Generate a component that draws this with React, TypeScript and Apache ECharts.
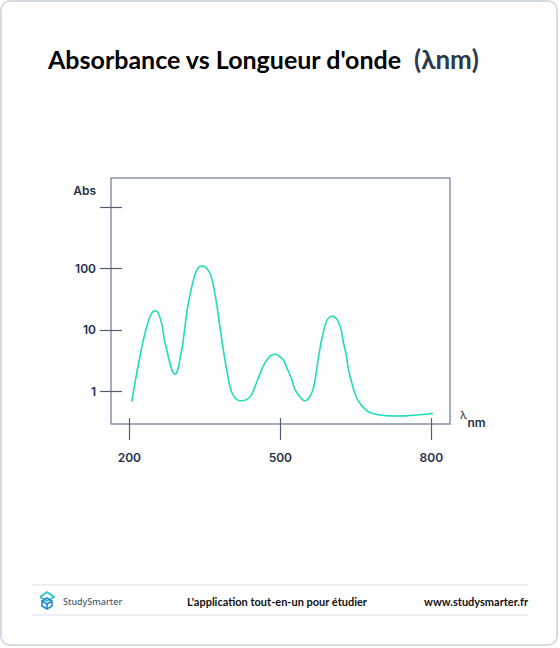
import React, { useEffect, useRef } from "react";
import * as echarts from "echarts";

// Wavelength (nm) and absorbance readings of the curve
const wavelengths = [
  205, 211, 221, 231, 241, 247, 253, 259, 265, 271, 291, 304, 309, 314, 319, 324, 329,
  334, 340, 347, 353, 360, 365, 370, 375, 380, 385, 390, 395, 400, 406, 413, 423, 440, 450, 460,
  468, 476, 483, 491, 499, 506, 514, 523, 529, 536, 549, 562, 569, 575, 580, 585, 591, 597,
  604, 611, 615, 621, 625, 631, 635, 640, 645, 651, 658, 666, 675, 686, 698, 714, 731, 750, 771, 787, 803,
];
const absorbance = [
  0.673, 1.34, 3.64, 8.77, 16.35, 19.88, 20.48, 17.43, 11.97, 6.09, 1.88, 4.69, 8.87, 18.58, 31.8, 50.4, 72.6,
  94.3, 107.6, 109.6, 101.7, 83.4, 62.4, 39.4, 21.8, 11.23, 5.87, 3.22, 1.9, 1.18, 0.866, 0.736, 0.699, 0.812, 1.21, 1.95,
  2.77, 3.43, 3.88, 3.99, 3.67, 3.22, 2.3, 1.52, 1.08, 0.866, 0.699, 0.923, 1.52, 3.22, 5.65, 8.77, 13.4, 15.87,
  16.79, 15.29, 13.55, 9.92, 6.4, 3.88, 2.36, 1.58, 1.11, 0.803, 0.634, 0.531, 0.462, 0.427, 0.408, 0.396, 0.394, 0.396, 0.408, 0.421, 0.435,
];

const xTickValues = [200, 500, 800];
const yTickValues = [1, 10, 100, 1000];
const yLabelValues = [1, 10, 100];

const TITLE = "Absorbance vs Longueur d'onde";
const TITLE_UNIT = "(λnm)";
const Y_NAME = "Abs";
const X_NAME = "λ";
const X_NAME_SUB = "nm";
const FOOTER_MID = "L'application tout-en-un pour étudier";
const FOOTER_URL = "www.studysmarter.fr";
const BRAND = "StudySmarter";

export default function App() {
  const ref = useRef<HTMLDivElement>(null);

  useEffect(() => {
    if (!ref.current) return;
    const chart = echarts.init(ref.current, undefined, { renderer: "svg" });
    const frame = "#8794a7";
    const tick = "#4e5f76";
    const labelColor = "#1f3048";
    const labelFont = { fontFamily: "Inter", fontWeight: 600 as any, fontSize: 12, color: labelColor };

    const xMin = 163.6;
    const xMax = 837.1;
    const yMin = 0.2917;
    const yMax = 2979;

    const baseX = {
      type: "value" as const,
      min: xMin,
      max: xMax,
      position: "bottom" as const,
      axisLine: { show: false },
      splitLine: { show: false },
    };
    const baseY = {
      type: "log" as const,
      logBase: 10,
      min: yMin,
      max: yMax,
      position: "left" as const,
      axisLine: { show: false },
      splitLine: { show: false },
    };

    chart.setOption({
      animation: false,
      backgroundColor: "transparent",
      grid: {
        left: 111,
        top: 178,
        right: 110,
        bottom: 224,
        show: true,
        borderColor: frame,
        borderWidth: 1.5,
        backgroundColor: "transparent",
      },
      xAxis: [
        {
          ...baseX,
          axisTick: { show: true, inside: false, length: 16, customValues: xTickValues, lineStyle: { color: tick, width: 1.2 } },
          axisLabel: { show: true, margin: 27, customValues: xTickValues, ...labelFont },
        },
        {
          ...baseX,
          axisTick: { show: true, inside: true, length: 6, customValues: xTickValues, lineStyle: { color: tick, width: 1.2 } },
          axisLabel: { show: false },
        },
      ],
      yAxis: [
        {
          ...baseY,
          axisTick: { show: true, inside: false, length: 11, customValues: yTickValues, lineStyle: { color: tick, width: 1.2 } },
          axisLabel: { show: true, margin: 15, customValues: yLabelValues, ...labelFont },
        },
        {
          ...baseY,
          axisTick: { show: true, inside: true, length: 11, customValues: yTickValues, lineStyle: { color: tick, width: 1.2 } },
          axisLabel: { show: false },
        },
      ],
      series: [
        {
          type: "line",
          xAxisIndex: 0,
          yAxisIndex: 0,
          data: wavelengths.map((w, i) => [w, absorbance[i]]),
          smooth: 0.4,
          showSymbol: false,
          lineStyle: { color: "#20dcb9", width: 1.6 },
        },
      ],
      graphic: [
        {
          type: "text",
          x: 48,
          y: 59,
          style: { text: TITLE, fontFamily: "Lato", fontWeight: "bold", fontSize: 25, fill: "#000", verticalAlign: "middle" },
        },
        {
          type: "text",
          x: 414,
          y: 59,
          style: { text: TITLE_UNIT, fontFamily: "Lato", fontWeight: "bold", fontSize: 26, fill: "#2c3a4f", verticalAlign: "middle" },
        },
        {
          type: "text",
          x: 96,
          y: 190,
          style: { text: Y_NAME, fontFamily: "Inter", fontWeight: 600, fontSize: 12, fill: labelColor, align: "right", verticalAlign: "middle" },
        },
        {
          type: "text",
          x: 460,
          y: 415,
          style: { text: X_NAME, fontFamily: "Inter", fontSize: 11, fill: labelColor, verticalAlign: "middle" },
        },
        {
          type: "text",
          x: 467.5,
          y: 422,
          style: { text: X_NAME_SUB, fontFamily: "Inter", fontWeight: 600, fontSize: 12, fill: labelColor, verticalAlign: "middle" },
        },
        // footer separators
        { type: "line", shape: { x1: 32, y1: 585, x2: 528, y2: 585 }, style: { stroke: "#eceef3", lineWidth: 2 } },
        { type: "line", shape: { x1: 32, y1: 615, x2: 528, y2: 615 }, style: { stroke: "#eceef3", lineWidth: 2 } },
        // logo
        {
          type: "polyline",
          shape: { points: [[40, 597], [47, 592], [54, 597], [47, 601], [40, 597]] },
          style: { stroke: "#27c6b8", lineWidth: 1.6, fill: "none" },
        },
        {
          type: "polyline",
          shape: { points: [[42, 601], [42, 606], [47, 609], [52, 606], [52, 601], [47, 598], [42, 601], [47, 604], [52, 601]] },
          style: { stroke: "#2c86d6", lineWidth: 1.6, fill: "none" },
        },
        { type: "line", shape: { x1: 47, y1: 604, x2: 47, y2: 609 }, style: { stroke: "#2c86d6", lineWidth: 1.6 } },
        {
          type: "text",
          x: 63,
          y: 601,
          style: { text: BRAND, fontFamily: "Noto Sans", fontWeight: 500, fontSize: 9, fill: "#4a596d", verticalAlign: "middle" },
        },
        {
          type: "text",
          x: 277,
          y: 601,
          style: { text: FOOTER_MID, fontFamily: "Lato", fontWeight: "bold", fontSize: 11, fill: "#111", align: "center", verticalAlign: "middle" },
        },
        {
          type: "text",
          x: 528,
          y: 601,
          style: { text: FOOTER_URL, fontFamily: "Lato", fontWeight: "bold", fontSize: 11, fill: "#111", align: "right", verticalAlign: "middle" },
        },
      ],
    });
    return () => chart.dispose();
  }, []);

  return (
    <div style={{ position: "absolute", left: 0, top: 0, width: 560, height: 648, background: "#fff" }}>
      <div
        style={{
          position: "absolute",
          left: 0,
          top: 0,
          width: 558,
          height: 646,
          border: "2px solid #d6dae2",
          borderRadius: 10,
          boxSizing: "border-box",
        }}
      />
      <div ref={ref} style={{ position: "absolute", left: 0, top: 0, width: 560, height: 648 }} />
    </div>
  );
}
